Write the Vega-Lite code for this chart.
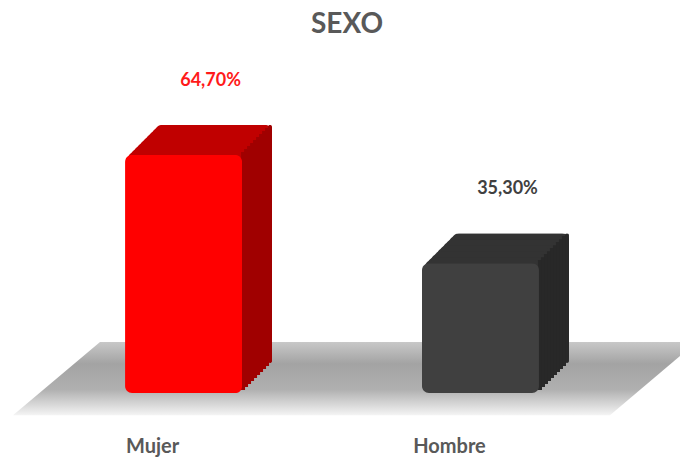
{
  "$schema": "https://vega.github.io/schema/vega-lite/v6.json",
  "width": 680,
  "height": 381,
  "autosize": {"type": "none"},
  "padding": {"top": 50, "bottom": 30, "left": 0, "right": 0},
  "background": "white",
  "config": {"view": {"stroke": null}, "font": "Lato"},
  "title": {"text": "SEXO", "fontSize": 28, "font": "Lato", "fontWeight": "bold", "color": "#595959", "anchor": "middle", "offset": 11, "dx": 7},
  "data": {"values": [
    {"sexo": "Mujer", "valor": 64.7, "etiqueta": "64,70%"},
    {"sexo": "Hombre", "valor": 35.3, "etiqueta": "35,30%"}
  ]},
  "layer": [
    {
      "data": {"values": [
        {"fx": 13, "top": -6, "bot": -6},
        {"fx": 100, "top": 13.9, "bot": -6},
        {"fx": 610, "top": 13.9, "bot": -6},
        {"fx": 680, "top": 13.9, "bot": 10.1}
      ]},
      "mark": {"type": "area", "color": {"gradient": "linear", "x1": 0, "y1": 0, "x2": 0, "y2": 1, "stops": [
        {"offset": 0, "color": "#c8c8c8"}, {"offset": 0.3, "color": "#a3a3a3"}, {"offset": 0.65, "color": "#b0b0b0"}, {"offset": 1, "color": "#f4f4f4"}]}},
      "encoding": {
        "x": {"field": "fx", "type": "quantitative", "axis": null, "scale": {"domain": [0, 680], "nice": false, "zero": false}},
        "y": {"field": "top", "type": "quantitative", "axis": null, "scale": {"domain": [-10.3, 93.2], "nice": false, "zero": false}},
        "y2": {"field": "bot"}
      }
    },
    {
      "encoding": {
        "x": {"field": "sexo", "type": "nominal", "sort": null, "title": null,
          "scale": {"paddingInner": 0.606, "paddingOuter": 0.448, "align": 0.47},
          "axis": {"domain": false, "ticks": false, "labelAngle": 0, "labelFont": "Lato", "labelFontSize": 20, "labelFontWeight": "bold", "labelColor": "#595959", "labelOffset": -31, "labelPadding": 5}}
      },
      "layer": [
        {"mark": {"type": "bar", "xOffset": 30, "cornerRadius": 7}, "encoding": {"y": {"field": "valor", "type": "quantitative", "axis": null, "scale": {"domain": [-18.45, 85.05], "nice": false, "zero": false}}, "color": {"condition": {"test": "datum.sexo === 'Mujer'", "value": "#c00000"}, "value": "#333333"}}},
        {"mark": {"type": "bar", "xOffset": 27, "cornerRadius": 7}, "encoding": {"y": {"field": "valor", "type": "quantitative", "axis": null, "scale": {"domain": [-17.64, 85.86], "nice": false, "zero": false}}, "color": {"condition": {"test": "datum.sexo === 'Mujer'", "value": "#c00000"}, "value": "#333333"}}},
        {"mark": {"type": "bar", "xOffset": 24, "cornerRadius": 7}, "encoding": {"y": {"field": "valor", "type": "quantitative", "axis": null, "scale": {"domain": [-16.82, 86.68], "nice": false, "zero": false}}, "color": {"condition": {"test": "datum.sexo === 'Mujer'", "value": "#c00000"}, "value": "#333333"}}},
        {"mark": {"type": "bar", "xOffset": 21, "cornerRadius": 7}, "encoding": {"y": {"field": "valor", "type": "quantitative", "axis": null, "scale": {"domain": [-16.01, 87.49], "nice": false, "zero": false}}, "color": {"condition": {"test": "datum.sexo === 'Mujer'", "value": "#c00000"}, "value": "#333333"}}},
        {"mark": {"type": "bar", "xOffset": 18, "cornerRadius": 7}, "encoding": {"y": {"field": "valor", "type": "quantitative", "axis": null, "scale": {"domain": [-15.19, 88.31], "nice": false, "zero": false}}, "color": {"condition": {"test": "datum.sexo === 'Mujer'", "value": "#c00000"}, "value": "#333333"}}},
        {"mark": {"type": "bar", "xOffset": 15, "cornerRadius": 7}, "encoding": {"y": {"field": "valor", "type": "quantitative", "axis": null, "scale": {"domain": [-14.38, 89.12], "nice": false, "zero": false}}, "color": {"condition": {"test": "datum.sexo === 'Mujer'", "value": "#c00000"}, "value": "#333333"}}},
        {"mark": {"type": "bar", "xOffset": 12, "cornerRadius": 7}, "encoding": {"y": {"field": "valor", "type": "quantitative", "axis": null, "scale": {"domain": [-13.56, 89.94], "nice": false, "zero": false}}, "color": {"condition": {"test": "datum.sexo === 'Mujer'", "value": "#c00000"}, "value": "#333333"}}},
        {"mark": {"type": "bar", "xOffset": 9, "cornerRadius": 7}, "encoding": {"y": {"field": "valor", "type": "quantitative", "axis": null, "scale": {"domain": [-12.75, 90.75], "nice": false, "zero": false}}, "color": {"condition": {"test": "datum.sexo === 'Mujer'", "value": "#c00000"}, "value": "#333333"}}},
        {"mark": {"type": "bar", "xOffset": 6, "cornerRadius": 7}, "encoding": {"y": {"field": "valor", "type": "quantitative", "axis": null, "scale": {"domain": [-11.93, 91.57], "nice": false, "zero": false}}, "color": {"condition": {"test": "datum.sexo === 'Mujer'", "value": "#c00000"}, "value": "#333333"}}},
        {"mark": {"type": "bar", "xOffset": 3, "cornerRadius": 7}, "encoding": {"y": {"field": "valor", "type": "quantitative", "axis": null, "scale": {"domain": [-11.12, 92.38], "nice": false, "zero": false}}, "color": {"condition": {"test": "datum.sexo === 'Mujer'", "value": "#c00000"}, "value": "#333333"}}},
        {"mark": {"type": "bar", "width": 4, "xOffset": 86.5, "cornerRadius": 2}, "encoding": {"y": {"field": "valor", "type": "quantitative", "axis": null, "scale": {"domain": [-18.45, 85.05], "nice": false, "zero": false}}, "color": {"condition": {"test": "datum.sexo === 'Mujer'", "value": "#a00000"}, "value": "#282828"}}},
        {"mark": {"type": "bar", "width": 4, "xOffset": 83.5}, "encoding": {"y": {"field": "valor", "type": "quantitative", "axis": null, "scale": {"domain": [-17.64, 85.86], "nice": false, "zero": false}}, "color": {"condition": {"test": "datum.sexo === 'Mujer'", "value": "#a00000"}, "value": "#282828"}}},
        {"mark": {"type": "bar", "width": 4, "xOffset": 80.5}, "encoding": {"y": {"field": "valor", "type": "quantitative", "axis": null, "scale": {"domain": [-16.82, 86.68], "nice": false, "zero": false}}, "color": {"condition": {"test": "datum.sexo === 'Mujer'", "value": "#a00000"}, "value": "#282828"}}},
        {"mark": {"type": "bar", "width": 4, "xOffset": 77.5}, "encoding": {"y": {"field": "valor", "type": "quantitative", "axis": null, "scale": {"domain": [-16.01, 87.49], "nice": false, "zero": false}}, "color": {"condition": {"test": "datum.sexo === 'Mujer'", "value": "#a00000"}, "value": "#282828"}}},
        {"mark": {"type": "bar", "width": 4, "xOffset": 74.5}, "encoding": {"y": {"field": "valor", "type": "quantitative", "axis": null, "scale": {"domain": [-15.19, 88.31], "nice": false, "zero": false}}, "color": {"condition": {"test": "datum.sexo === 'Mujer'", "value": "#a00000"}, "value": "#282828"}}},
        {"mark": {"type": "bar", "width": 4, "xOffset": 71.5}, "encoding": {"y": {"field": "valor", "type": "quantitative", "axis": null, "scale": {"domain": [-14.38, 89.12], "nice": false, "zero": false}}, "color": {"condition": {"test": "datum.sexo === 'Mujer'", "value": "#a00000"}, "value": "#282828"}}},
        {"mark": {"type": "bar", "width": 4, "xOffset": 68.5}, "encoding": {"y": {"field": "valor", "type": "quantitative", "axis": null, "scale": {"domain": [-13.56, 89.94], "nice": false, "zero": false}}, "color": {"condition": {"test": "datum.sexo === 'Mujer'", "value": "#a00000"}, "value": "#282828"}}},
        {"mark": {"type": "bar", "width": 4, "xOffset": 65.5}, "encoding": {"y": {"field": "valor", "type": "quantitative", "axis": null, "scale": {"domain": [-12.75, 90.75], "nice": false, "zero": false}}, "color": {"condition": {"test": "datum.sexo === 'Mujer'", "value": "#a00000"}, "value": "#282828"}}},
        {"mark": {"type": "bar", "width": 4, "xOffset": 62.5}, "encoding": {"y": {"field": "valor", "type": "quantitative", "axis": null, "scale": {"domain": [-11.93, 91.57], "nice": false, "zero": false}}, "color": {"condition": {"test": "datum.sexo === 'Mujer'", "value": "#a00000"}, "value": "#282828"}}},
        {"mark": {"type": "bar", "width": 4, "xOffset": 59.5}, "encoding": {"y": {"field": "valor", "type": "quantitative", "axis": null, "scale": {"domain": [-11.12, 92.38], "nice": false, "zero": false}}, "color": {"condition": {"test": "datum.sexo === 'Mujer'", "value": "#a00000"}, "value": "#282828"}}},
        {"mark": {"type": "bar", "cornerRadius": 7}, "encoding": {"y": {"field": "valor", "type": "quantitative", "axis": null, "scale": {"domain": [-10.3, 93.2], "nice": false, "zero": false}}, "color": {"condition": {"test": "datum.sexo === 'Mujer'", "value": "#ff0000"}, "value": "#404040"}}},
        {"mark": {"type": "text", "dx": 27, "dy": -74, "font": "Lato", "fontSize": 18, "fontWeight": "bold", "baseline": "middle"},
          "encoding": {"y": {"field": "valor", "type": "quantitative", "axis": null, "scale": {"domain": [-10.3, 93.2], "nice": false, "zero": false}}, "text": {"field": "etiqueta"}, "color": {"condition": {"test": "datum.sexo === 'Mujer'", "value": "#ff1a1a"}, "value": "#404040"}}}
      ],
      "resolve": {"scale": {"y": "independent"}}
    }
  ],
  "resolve": {"scale": {"x": "independent", "y": "independent"}}
}
